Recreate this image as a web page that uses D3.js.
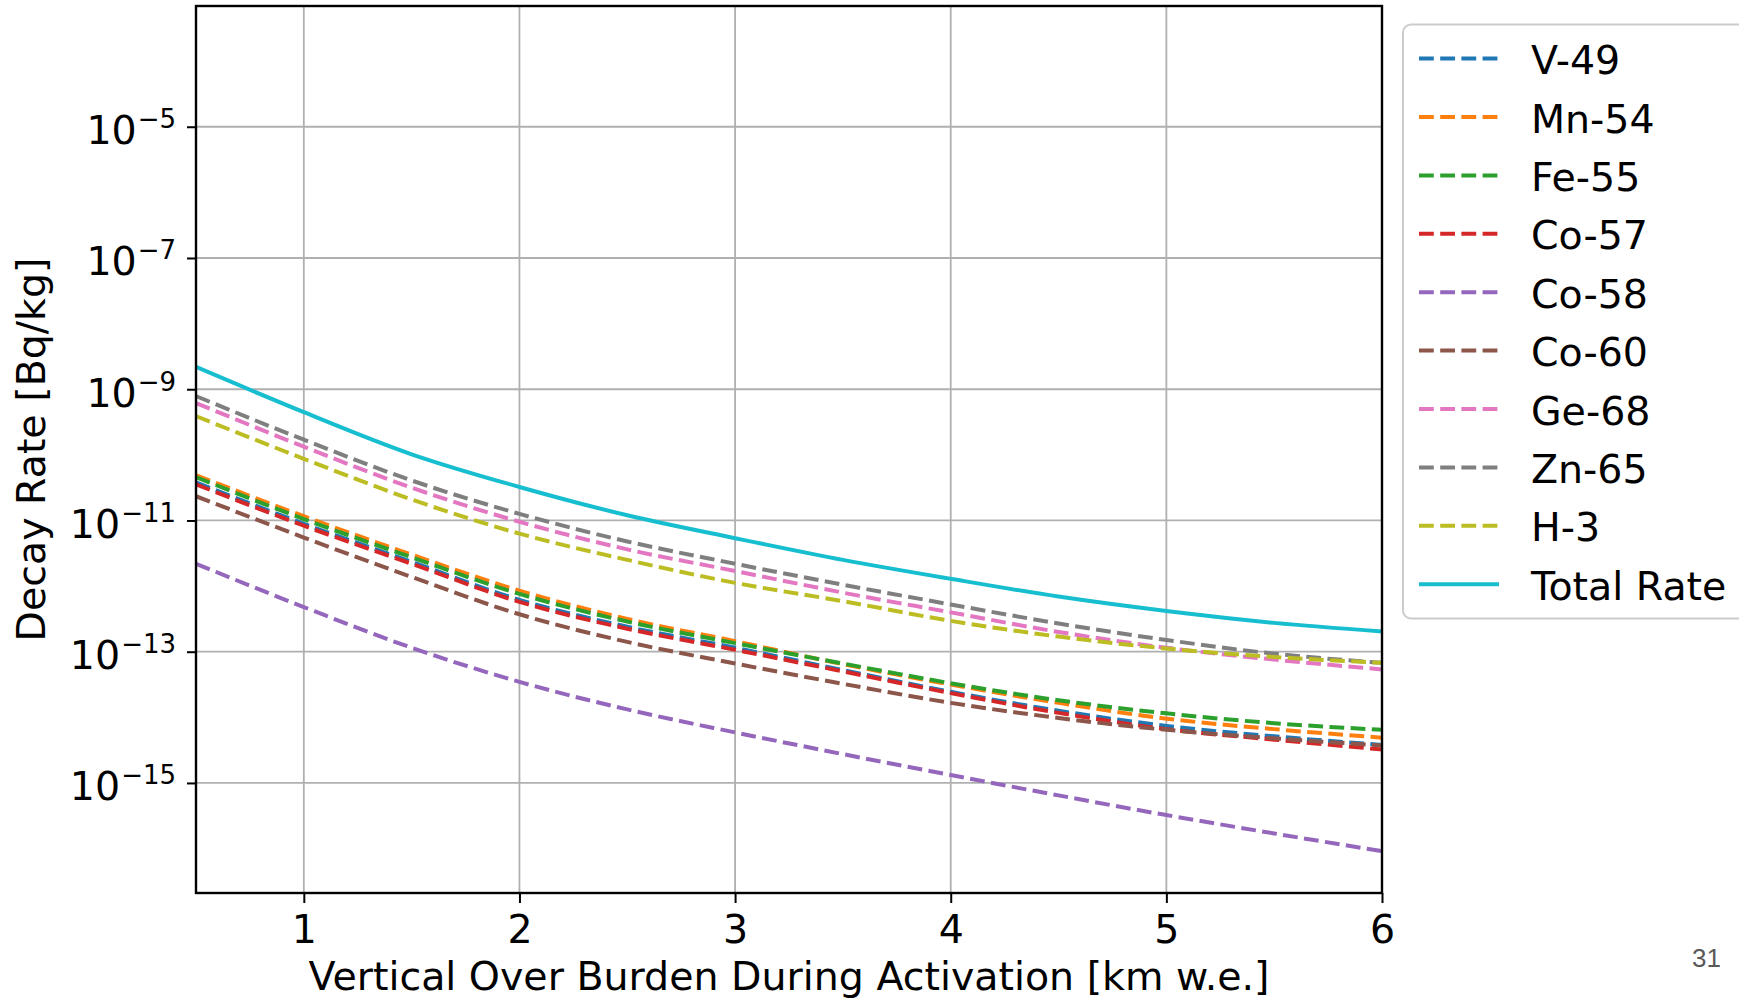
<!DOCTYPE html>
<html>
<head>
<meta charset="utf-8">
<script src="https://cdn.jsdelivr.net/npm/d3@7"></script>
<style>
  html, body { margin: 0; padding: 0; background: #ffffff; }
  svg { display: block; }
</style>
</head>
<body>
<svg id="chart" width="1739" height="1000"></svg>
<script>
// Overburden during activation, km water equivalent
const overburden = [0.5, 1, 1.5, 2, 2.5, 3, 3.5, 4, 4.5, 5, 5.5, 6];

// Decay rates in Bq/kg for each isotope at the overburden values above
const v49  = [3.80e-11, 8.91e-12, 2.34e-12, 6.17e-13, 2.40e-13, 1.15e-13, 5.25e-14, 2.45e-14, 1.26e-14, 7.41e-15, 5.13e-15, 3.80e-15];
const mn54 = [4.90e-11, 1.16e-11, 3.02e-12, 8.51e-13, 3.16e-13, 1.45e-13, 6.46e-14, 3.16e-14, 1.66e-14, 9.55e-15, 6.61e-15, 4.90e-15];
const fe55 = [4.57e-11, 1.05e-11, 2.75e-12, 7.59e-13, 2.88e-13, 1.35e-13, 6.61e-14, 3.31e-14, 1.82e-14, 1.15e-14, 8.13e-15, 6.46e-15];
const co57 = [3.55e-11, 8.32e-12, 2.19e-12, 5.75e-13, 2.24e-13, 1.07e-13, 5.01e-14, 2.34e-14, 1.17e-14, 6.61e-15, 4.57e-15, 3.24e-15];
const co58 = [2.19e-12, 4.79e-13, 1.15e-13, 3.47e-14, 1.32e-14, 5.89e-15, 2.75e-15, 1.32e-15, 6.46e-16, 3.24e-16, 1.70e-16, 9.12e-17];
const co60 = [2.34e-11, 5.50e-12, 1.38e-12, 3.72e-13, 1.41e-13, 6.61e-14, 3.24e-14, 1.66e-14, 9.77e-15, 6.46e-15, 4.79e-15, 3.72e-15];
const ge68 = [6.17e-10, 1.33e-10, 3.16e-11, 9.55e-12, 3.63e-12, 1.70e-12, 7.94e-13, 3.98e-13, 2.00e-13, 1.15e-13, 7.59e-14, 5.37e-14];
const zn65 = [7.85e-10, 1.70e-10, 4.07e-11, 1.26e-11, 4.79e-12, 2.19e-12, 1.05e-12, 5.25e-13, 2.69e-13, 1.51e-13, 9.33e-14, 6.76e-14];
const h3   = [3.89e-10, 8.71e-11, 2.09e-11, 6.31e-12, 2.51e-12, 1.12e-12, 5.89e-13, 2.95e-13, 1.70e-13, 1.12e-13, 8.32e-14, 6.76e-14];
const totalRate = [2.19e-9, 4.47e-10, 1.02e-10, 3.24e-11, 1.20e-11, 5.37e-12, 2.51e-12, 1.29e-12, 6.92e-13, 4.17e-13, 2.75e-13, 2.04e-13];

const seriesNames  = ["V-49", "Mn-54", "Fe-55", "Co-57", "Co-58", "Co-60", "Ge-68", "Zn-65", "H-3", "Total Rate"];
const seriesValues = [v49, mn54, fe55, co57, co58, co60, ge68, zn65, h3, totalRate];
const seriesColors = ["#1f77b4", "#ff7f0e", "#2ca02c", "#d62728", "#9467bd", "#8c564b", "#e377c2", "#7f7f7f", "#bcbd22", "#17becf"];

// Axis ticks
const xTicks = [1, 2, 3, 4, 5, 6];
const yTickExponents = [-5, -7, -9, -11, -13, -15];

const xLabel = "Vertical Over Burden During Activation [km w.e.]";
const yLabel = "Decay Rate [Bq/kg]";
const pageNumber = "31";

// ---- layout ----
const FONT = "'DejaVu Sans', sans-serif";
const FS = 39.5;
const plot = { left: 196, right: 1382, top: 6, bottom: 893 };
const svg = d3.select("#chart");

const x = d3.scaleLinear().domain([0.5, 6]).range([plot.left, plot.right]);
const y = d3.scaleLog().domain([Math.pow(10, -16.677), Math.pow(10, -3.16)]).range([plot.bottom, plot.top]);

svg.append("rect").attr("width", 1739).attr("height", 1000).attr("fill", "#ffffff");

// grid
const grid = svg.append("g").attr("stroke", "#b0b0b0").attr("stroke-width", 1.8);
grid.selectAll("line.gx").data(xTicks).join("line")
  .attr("class", "gx")
  .attr("x1", d => x(d)).attr("x2", d => x(d))
  .attr("y1", plot.top).attr("y2", plot.bottom);
grid.selectAll("line.gy").data(yTickExponents).join("line")
  .attr("class", "gy")
  .attr("x1", plot.left).attr("x2", plot.right)
  .attr("y1", d => y(Math.pow(10, d))).attr("y2", d => y(Math.pow(10, d)));

// clip for the curves
svg.append("defs").append("clipPath").attr("id", "plot-clip")
  .append("rect")
  .attr("x", plot.left).attr("y", plot.top)
  .attr("width", plot.right - plot.left).attr("height", plot.bottom - plot.top);

const line = d3.line()
  .x((d, i) => x(overburden[i]))
  .y(d => y(d))
  .curve(d3.curveMonotoneX);

const LW = 4;
const DASH = "14.8,6.4";

svg.append("g").attr("clip-path", "url(#plot-clip)")
  .selectAll("path").data(seriesValues).join("path")
  .attr("d", d => line(d))
  .attr("fill", "none")
  .attr("stroke", (d, i) => seriesColors[i])
  .attr("stroke-width", LW)
  .attr("stroke-dasharray", (d, i) => seriesNames[i] === "Total Rate" ? null : DASH);

// x axis
const xAxisG = svg.append("g").attr("transform", `translate(0,${plot.bottom})`)
  .call(d3.axisBottom(x).tickValues(xTicks).tickSize(10).tickSizeOuter(0).tickFormat(d3.format("d")));
xAxisG.select(".domain").remove();
xAxisG.selectAll(".tick line").attr("stroke", "#000").attr("stroke-width", 2);
xAxisG.selectAll(".tick text")
  .attr("y", 50).attr("dy", null)
  .attr("fill", "#000")
  .style("font-family", FONT).style("font-size", FS + "px");

// y axis with power-of-ten labels
const yAxisG = svg.append("g").attr("transform", `translate(${plot.left},0)`)
  .call(d3.axisLeft(y).tickValues(yTickExponents.map(e => Math.pow(10, e))).tickSize(9).tickSizeOuter(0).tickFormat(() => ""));
yAxisG.select(".domain").remove();
yAxisG.selectAll(".tick line").attr("stroke", "#000").attr("stroke-width", 2);
yAxisG.selectAll(".tick text").each(function (d, i) {
  const t = d3.select(this);
  t.text(null)
    .attr("x", -20).attr("y", 17).attr("dy", null)
    .attr("text-anchor", "end")
    .attr("fill", "#000")
    .style("font-family", FONT).style("font-size", FS + "px");
  t.append("tspan").text("10");
  t.append("tspan")
    .attr("dx", 1).attr("dy", -16)
    .style("font-size", "26px")
    .text("\u2212" + Math.abs(yTickExponents[i]));
});

// frame
svg.append("rect")
  .attr("x", plot.left).attr("y", plot.top)
  .attr("width", plot.right - plot.left).attr("height", plot.bottom - plot.top)
  .attr("fill", "none").attr("stroke", "#000").attr("stroke-width", 2.4);

// axis titles
svg.append("text")
  .attr("x", (plot.left + plot.right) / 2).attr("y", 990)
  .attr("text-anchor", "middle")
  .style("font-family", FONT).style("font-size", FS + "px")
  .text(xLabel);

svg.append("text")
  .attr("transform", `translate(45,${(plot.top + plot.bottom) / 2}) rotate(-90)`)
  .attr("text-anchor", "middle")
  .style("font-family", FONT).style("font-size", FS + "px")
  .text(yLabel);

// legend
const legend = svg.append("g");
legend.append("rect")
  .attr("x", 1403).attr("y", 24.5).attr("width", 360).attr("height", 594)
  .attr("rx", 8).attr("ry", 8)
  .attr("fill", "#ffffff").attr("stroke", "#cccccc").attr("stroke-width", 2);

const entryY = i => 58.6 + i * 58.4;
const entries = legend.selectAll("g.entry").data(seriesNames).join("g").attr("class", "entry");
entries.append("line")
  .attr("x1", 1419).attr("x2", 1499)
  .attr("y1", (d, i) => entryY(i)).attr("y2", (d, i) => entryY(i))
  .attr("stroke", (d, i) => seriesColors[i])
  .attr("stroke-width", LW)
  .attr("stroke-dasharray", d => d === "Total Rate" ? null : DASH);
entries.append("text")
  .attr("x", 1531).attr("y", (d, i) => entryY(i) + 15.5)
  .style("font-family", FONT).style("font-size", FS + "px")
  .text(d => d);

// page number
svg.append("text")
  .attr("x", 1692).attr("y", 967)
  .attr("fill", "#595959")
  .style("font-family", "'Liberation Sans', Arial, sans-serif").style("font-size", "26px")
  .text(pageNumber);
</script>
</body>
</html>
